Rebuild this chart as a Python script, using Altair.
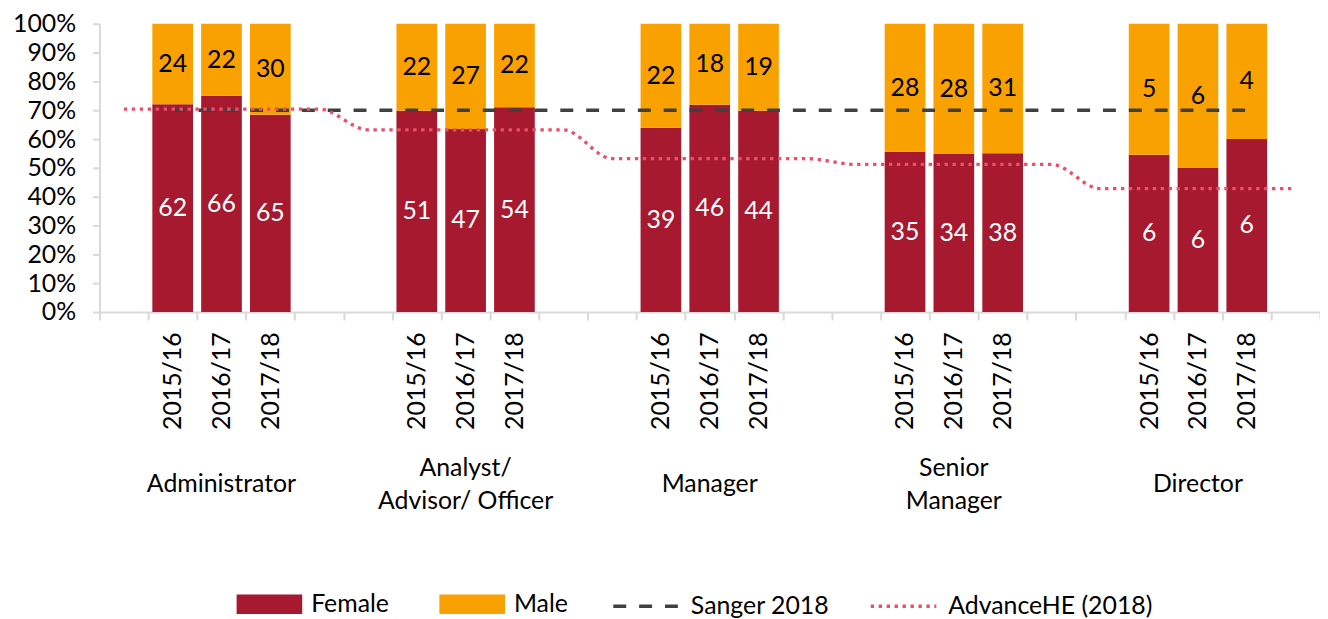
import altair as alt
import pandas as pd

FONT = "Lato"

# ---- values ----
groups = ["Administrator", "Analyst/\nAdvisor/ Officer", "Manager", "Senior\nManager", "Director"]
years = ["2015/16", "2016/17", "2017/18"]
female = [62, 66, 65, 51, 47, 54, 39, 46, 44, 35, 34, 38, 6, 6, 6]
male = [24, 22, 30, 22, 27, 22, 22, 18, 19, 28, 28, 31, 5, 6, 4]
sexes = ["Female", "Male"]
bar_colors = ["#A6192E", "#F9A100"]

benchmarks = ["Sanger 2018", "AdvanceHE (2018)"]
line_colors = ["#404040", "#E8506B"]
# one value per category slot (blank slots included), as in the source sheet
sanger = [None, 0.70, 0.70, 0.70, 0.70, 0.70, 0.70, 0.70, 0.70, 0.70, 0.70, 0.70, 0.70,
          0.70, 0.70, 0.70, 0.70, 0.70, 0.70, 0.70, 0.70, 0.70, 0.70, 0.70, None]
advance_he = [0.704, 0.704, 0.704, 0.704, 0.704,
              0.632, 0.632, 0.632, 0.632, 0.632,
              0.532, 0.532, 0.532, 0.532, 0.532,
              0.512, 0.512, 0.512, 0.512, 0.512,
              0.428, 0.428, 0.428, 0.428, 0.428]
y_ticks = [0.0, 0.1, 0.2, 0.3, 0.4, 0.5, 0.6, 0.7, 0.8, 0.9, 1.0]

# ---- category slots: blank, 3 years, 2 blanks, ..., 3 years, blank ----
slots = ["gap0"]
for gi, g in enumerate(groups):
    slots += [f"{g}|{y}" for y in years]
    if gi < len(groups) - 1:
        n = len(slots)
        slots += [f"gap{n}", f"gap{n + 1}"]
slots.append(f"gap{len(slots)}")

rows = []
for gi, g in enumerate(groups):
    for yi, y in enumerate(years):
        k = gi * 3 + yi
        slot = f"{g}|{y}"
        rows.append(dict(slot=slot, sex="Female", count=female[k], order=0))
        rows.append(dict(slot=slot, sex="Male", count=male[k], order=1))
bars_df = pd.DataFrame(rows)

lrows = []
for i, s in enumerate(slots):
    if sanger[i] is not None:
        lrows.append(dict(slot=s, idx=i, series=benchmarks[0], value=sanger[i]))
    lrows.append(dict(slot=s, idx=i, series=benchmarks[1], value=advance_he[i]))
lines_df = pd.DataFrame(lrows)

# ---- scales / axes / legends ----
xscale = alt.Scale(domain=slots, paddingInner=0, paddingOuter=0)
yscale = alt.Scale(domain=[0, 1], nice=False)

GRID = "#D9D9D9"
y_axis = alt.Axis(title=None, values=y_ticks, format=".0%", labelFont=FONT, labelFontSize=25,
                  labelColor="black", labelPadding=17, tickSize=7, tickWidth=2, tickColor=GRID,
                  domainColor=GRID, domainWidth=2, grid=False)

year_axis = alt.Axis(title=None, orient="bottom",
                     labelExpr="isString(datum.value) && indexof(datum.value, '|') >= 0 ? split(datum.value, '|')[1] : ''",
                     labelAngle=270, labelAlign="right", labelBaseline="middle", labelPadding=12,
                     labelFont=FONT, labelFontSize=25, labelColor="black", labelOverlap=False,
                     tickBand="extent", tickSize=8, tickWidth=2, tickColor=GRID,
                     domainColor=GRID, domainWidth=2, grid=False)

two_lines = "isString(datum.value) && indexof(datum.value, '\\n') >= 0"
group_axis = alt.Axis(title=None, orient="bottom", offset=160, domain=False, ticks=False, tickSize=0,
                      labelExpr="isString(datum.value) && indexof(datum.value, '|2016/17') >= 0 ? split(split(datum.value, '|')[0], '\\n') : ''",
                      labelAngle=0, labelAlign="center", labelBaseline="middle",
                      labelPadding={"condition": {"test": two_lines, "value": -4}, "value": 13},
                      labelFont=FONT, labelFontSize=25, labelColor="black", labelLineHeight=34,
                      labelLimit=400, labelOverlap=False, grid=False)

leg_bars = alt.Legend(title=None, orient="none", legendX=138, legendY=551, direction="horizontal",
                      symbolType="M-1,-0.3H1V0.3H-1Z", symbolSize=4356, symbolStrokeWidth=0,
                      labelFont=FONT, labelFontSize=25, labelColor="black", labelOffset=9,
                      columnPadding=50, padding=0, labelLimit=400)
leg_lines = alt.Legend(title=None, orient="none", legendX=515, legendY=551, direction="horizontal",
                       symbolType="stroke", symbolSize=4356, symbolStrokeWidth=3.4,
                       labelFont=FONT, labelFontSize=25, labelColor="black", labelOffset=10,
                       columnPadding=34, padding=0, labelLimit=400)

# ---- layers ----
base = alt.Chart(bars_df).transform_stack(
    stack="count", groupby=["slot"], as_=["y0", "y1"], offset="normalize",
    sort=[alt.SortField("order", order="ascending")]
).transform_calculate(mid="(datum.y0 + datum.y1) / 2")

bars = base.mark_bar(width=alt.RelativeBandSize(0.833)).encode(
    x=alt.X("slot:N", scale=xscale, axis=year_axis),
    y=alt.Y("y0:Q", scale=yscale, axis=y_axis),
    y2="y1:Q",
    fill=alt.Fill("sex:N", scale=alt.Scale(domain=sexes, range=bar_colors), legend=leg_bars),
)

labels = base.mark_text(font=FONT, fontSize=25, align="center", baseline="middle").encode(
    x=alt.X("slot:N", scale=xscale, axis=group_axis),
    y=alt.Y("mid:Q", scale=yscale, axis=y_axis),
    text="count:Q",
    color=alt.condition(alt.datum.sex == "Female", alt.value("white"), alt.value("black")),
)

stroke_enc = alt.Stroke("series:N", scale=alt.Scale(domain=benchmarks, range=line_colors), legend=leg_lines)
dash_enc = alt.StrokeDash("series:N", scale=alt.Scale(domain=benchmarks, range=[[13, 13], [3.4, 4.6]]),
                          legend=leg_lines)

line_base = alt.Chart(lines_df)
sanger_line = line_base.transform_filter(alt.datum.series == benchmarks[0]).mark_line(
    strokeWidth=3.5).encode(
    x=alt.X("slot:N", scale=xscale, axis=None),
    y=alt.Y("value:Q", scale=yscale, axis=y_axis),
    stroke=stroke_enc, strokeDash=dash_enc, order="idx:Q",
)
advance_line = line_base.transform_filter(alt.datum.series == benchmarks[1]).mark_line(
    interpolate="monotone", strokeWidth=3.4).encode(
    x=alt.X("slot:N", scale=xscale, axis=None),
    y=alt.Y("value:Q", scale=yscale, axis=y_axis),
    stroke=stroke_enc, strokeDash=dash_enc, order="idx:Q",
)

chart = alt.layer(bars, sanger_line, advance_line, labels).resolve_scale(
    x="shared", y="shared"
).resolve_axis(x="independent").properties(
    width=1228, height=290,
    autosize=alt.AutoSizeParams(type="none"),
    padding={"left": 92, "top": 14, "right": 0, "bottom": 307},
).configure_view(stroke=None)

chart.save("out.html", embed_options={"renderer": "svg", "actions": False})
